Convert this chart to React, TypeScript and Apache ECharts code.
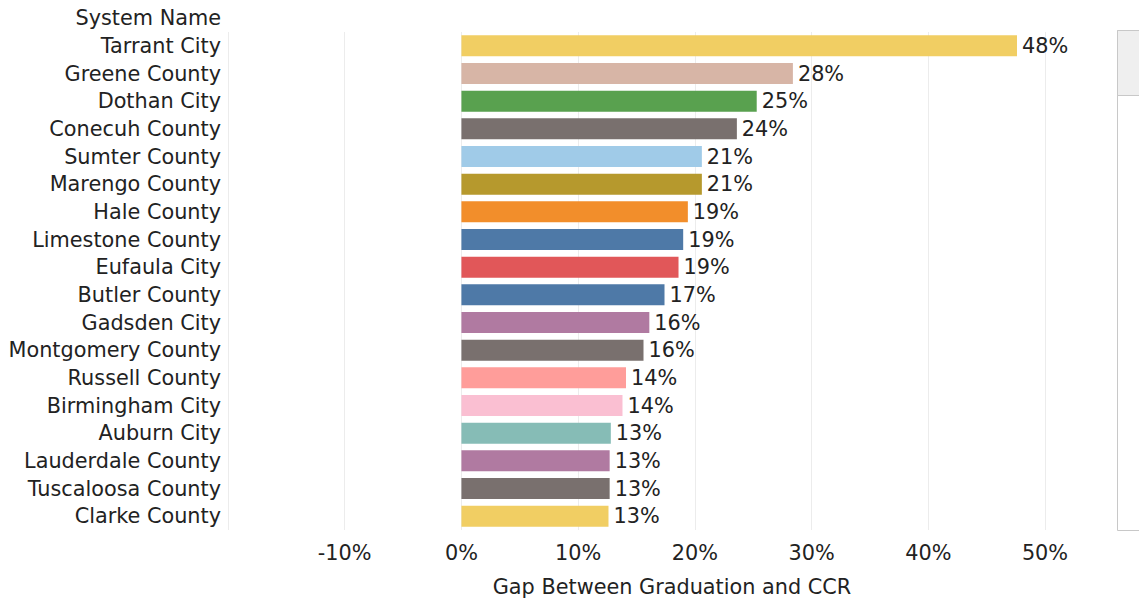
import React, { useEffect, useRef } from "react";
import * as echarts from "echarts";

const categories = [
  "Tarrant City", "Greene County", "Dothan City", "Conecuh County", "Sumter County",
  "Marengo County", "Hale County", "Limestone County", "Eufaula City", "Butler County",
  "Gadsden City", "Montgomery County", "Russell County", "Birmingham City", "Auburn City",
  "Lauderdale County", "Tuscaloosa County", "Clarke County",
];
const values = [47.6, 28.4, 25.3, 23.6, 20.6, 20.6, 19.4, 19.0, 18.6, 17.4, 16.1, 15.6, 14.1, 13.8, 12.8, 12.7, 12.7, 12.6];
const colors = [
  "#F1CE63", "#D7B5A6", "#59A14F", "#79706E", "#A0CBE8", "#B6992D", "#F28E2B", "#4E79A7",
  "#E15759", "#4E79A7", "#B07AA1", "#79706E", "#FF9D9A", "#FABFD2", "#86BCB6", "#B07AA1",
  "#79706E", "#F1CE63",
];
const xTicks = { min: -20, max: 50, interval: 10 };

const FONT = "DejaVu Sans";
const FS = 20.8;

export default function App() {
  const ref = useRef<HTMLDivElement>(null);
  useEffect(() => {
    document.body.style.margin = "0";
    const chart = echarts.init(ref.current!, undefined, { renderer: "svg" });
    chart.setOption({
      animation: false,
      backgroundColor: "#ffffff",
      grid: { left: 228, right: 94, top: 32, bottom: 69, containLabel: false },
      xAxis: {
        type: "value",
        min: xTicks.min,
        max: xTicks.max,
        interval: xTicks.interval,
        axisLine: { show: false },
        axisTick: { show: false },
        splitLine: { show: true, lineStyle: { color: "#ececec", width: 1 } },
        axisLabel: {
          margin: 12,
          fontFamily: FONT,
          fontSize: FS,
          color: "#222",
          formatter: (v: number) => (v === xTicks.min ? "" : `${v}%`),
        },
      },
      yAxis: {
        type: "category",
        data: categories,
        inverse: true,
        axisLine: { show: false },
        axisTick: { show: false },
        splitLine: { show: false },
        axisLabel: { margin: 7, fontFamily: FONT, fontSize: FS, color: "#222" },
      },
      series: [
        {
          type: "bar",
          data: values.map((v, i) => ({ value: v, itemStyle: { color: colors[i] } })),
          barWidth: 21,
          label: {
            show: true,
            position: "right",
            distance: 5,
            fontFamily: FONT,
            fontSize: FS,
            color: "#222",
            formatter: (p: any) => `${Math.round(p.value)}%`,
          },
        },
      ],
      graphic: [
        {
          type: "text",
          x: 221,
          y: 18,
          style: {
            text: "System Name",
            fontFamily: FONT,
            fontSize: FS,
            fill: "#222",
            textAlign: "right",
            textVerticalAlign: "middle",
          },
        },
        {
          type: "text",
          x: 672,
          y: 587,
          style: {
            text: "Gap Between Graduation and CCR",
            fontFamily: FONT,
            fontSize: FS,
            fill: "#222",
            textAlign: "center",
            textVerticalAlign: "middle",
          },
        },
        {
          type: "rect",
          shape: { x: 1117.5, y: 30.5, width: 40, height: 500 },
          style: { fill: "#ffffff", stroke: "#c8c8c8", lineWidth: 1 },
        },
        {
          type: "rect",
          shape: { x: 1117.5, y: 30.5, width: 40, height: 65 },
          style: { fill: "#efefef", stroke: "#c8c8c8", lineWidth: 1 },
        },
      ],
    });
    return () => chart.dispose();
  }, []);
  return <div ref={ref} style={{ width: 1139, height: 599 }} />;
}
